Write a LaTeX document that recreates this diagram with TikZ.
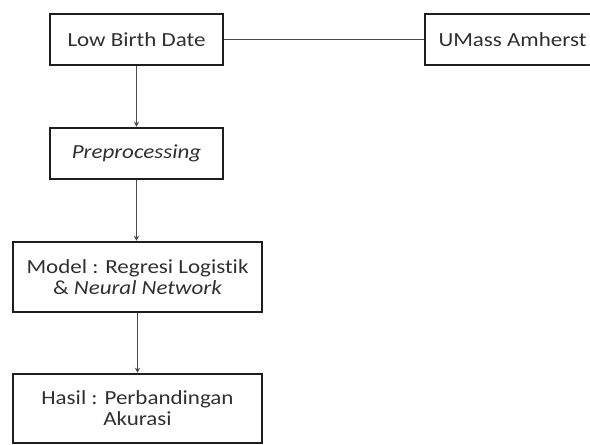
\documentclass[tikz,border=0pt]{standalone}
\usepackage{fontspec}
\setmainfont{Carlito}[FakeStretch=1.15,Ligatures=NoCommon]
\usetikzlibrary{arrows.meta}
\definecolor{txt}{HTML}{303030}
\definecolor{bord}{HTML}{1E1E1E}
\definecolor{conn}{HTML}{4A4A4A}
\begin{document}
\begin{tikzpicture}[x=1pt,y=-1pt,
  box/.style={draw=bord,line width=2.5pt,rectangle,inner sep=0pt,align=center,text=txt,
    font=\fontsize{20}{21}\selectfont},
  link/.style={draw=conn,line width=1.5pt},
  arr/.style={link,-{Stealth[length=5pt,width=5pt]}}]
\useasboundingbox (0,0) rectangle (590,445);
\clip (0,0) rectangle (590,445);
\node[box,minimum width=173,minimum height=51] (lbd) at (136.5,39.5) {Low Birth Date};
\node[box,minimum width=175,minimum height=51] (ums) at (512.5,39.5) {UMass Amherst};
\node[box,minimum width=173,minimum height=51] (pre) at (136.5,153.5) {\textit{Preprocessing}};
\node[box,minimum width=249,minimum height=70] (mod) at (137.5,277) {Model : Regresi Logistik\\\& \textit{Neural Network}};
\node[box,minimum width=249,minimum height=69] (has) at (137.5,408.5) {Hasil : Perbandingan\\Akurasi};
\draw[link] (lbd.east) -- (ums.west);
\draw[arr] (lbd.south) -- (pre.north);
\draw[arr] (pre.south) -- (pre.south |- mod.north);
\draw[arr] (mod.south) -- (has.north);
\end{tikzpicture}
\end{document}
